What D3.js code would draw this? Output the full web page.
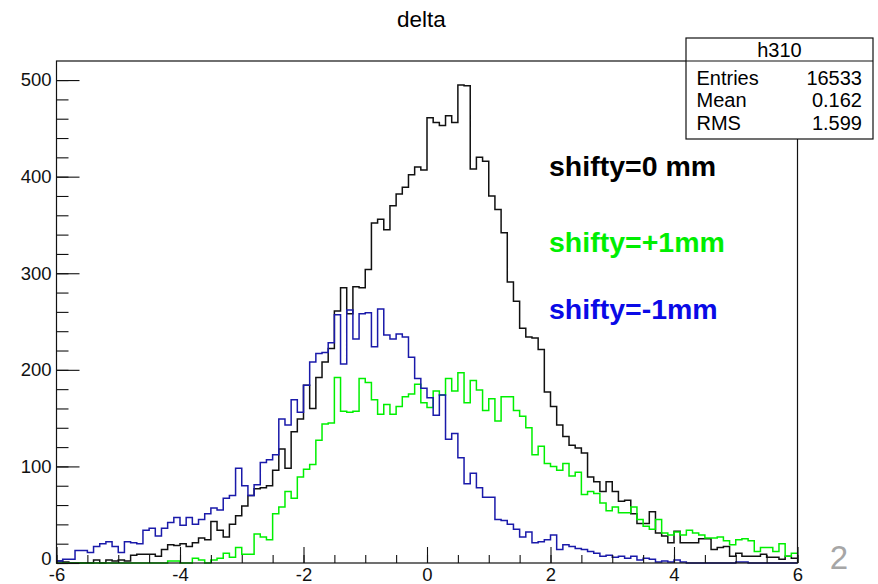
<!DOCTYPE html>
<html>
<head>
<meta charset="utf-8">
<script src="https://cdn.jsdelivr.net/npm/d3@7"></script>
<style>
  html, body { margin: 0; padding: 0; background: #fff; }
  svg { display: block; }
  text { font-family: "Liberation Sans", Arial, Helvetica, sans-serif; }
</style>
</head>
<body>
<div id="chart"></div>
<script>
// Histogram binning of "delta": 120 bins between -6 and 6
const xMin = -6, xMax = 6, nBins = 120;

// shifty = 0 mm (black)
const countsNominal = [
  2, 1, 0, 0, 0, 0, 3, 0, 3, 2, 3, 2,
  8, 9, 9, 9, 7, 14, 19, 18, 20, 17, 21, 26,
  24, 43, 34, 27, 40, 49, 59, 70, 77, 78, 80, 96,
  118, 98, 136, 149, 184, 160, 192, 208, 222, 261, 285, 258,
  286, 285, 304, 352, 356, 345, 370, 382, 389, 402, 410, 407,
  461, 456, 453, 463, 456, 495, 494, 408, 420, 416, 380, 366,
  342, 291, 271, 243, 234, 233, 221, 177, 162, 143, 131, 122,
  119, 114, 89, 84, 74, 84, 74, 64, 65, 51, 41, 41,
  53, 31, 28, 21, 33, 21, 21, 21, 25, 25, 14, 16,
  17, 7, 10, 7, 7, 7, 9, 6, 6, 4, 7, 5
];

// shifty = +1 mm (green)
const countsPlus = [
  0, 0, 0, 0, 0, 0, 0, 0, 0, 0, 0, 0,
  0, 0, 0, 0, 0, 0, 2, 2, 0, 0, 5, 3,
  0, 3, 5, 10, 6, 16, 9, 9, 30, 27, 24, 51,
  58, 74, 67, 89, 97, 102, 127, 144, 145, 192, 157, 156,
  157, 191, 187, 169, 154, 164, 154, 162, 172, 175, 185, 166,
  161, 178, 174, 191, 178, 197, 166, 189, 179, 158, 170, 147,
  172, 172, 158, 152, 140, 112, 121, 103, 100, 96, 103, 90,
  94, 71, 74, 72, 62, 54, 58, 52, 52, 58, 45, 38,
  35, 45, 31, 29, 32, 29, 34, 31, 29, 26, 26, 27,
  23, 19, 24, 25, 23, 12, 16, 16, 12, 20, 7, 10
];

// shifty = -1 mm (blue)
const countsMinus = [
  2, 4, 4, 13, 13, 11, 17, 20, 22, 17, 11, 22,
  21, 20, 34, 36, 28, 36, 42, 47, 39, 47, 40, 45,
  51, 57, 55, 67, 70, 98, 80, 70, 81, 104, 107, 112,
  149, 143, 169, 156, 184, 208, 217, 218, 228, 257, 206, 262,
  232, 258, 259, 224, 263, 236, 232, 237, 234, 213, 191, 181,
  171, 153, 174, 128, 134, 109, 82, 93, 78, 68, 68, 45,
  44, 40, 35, 27, 32, 21, 22, 24, 29, 14, 19, 17,
  15, 14, 12, 10, 7, 8, 6, 7, 5, 7, 3, 5,
  4, 1, 2, 1, 3, 1, 0, 0, 0, 0, 0, 0,
  0, 0, 1, 1, 0, 0, 0, 0, 0, 0, 0, 0
];

const xTickLabels = [-6, -4, -2, 0, 2, 4, 6];
const yTickLabels = [0, 100, 200, 300, 400, 500];
const legendLabels = ["shifty=0 mm", "shifty=+1mm", "shifty=-1mm"];
const statNames = ["Entries", "Mean", "RMS"];
const statValues = ["16533", "0.162", "1.599"];
const histName = "h310";
const title = "delta";
const pageNumber = "2";

// ---- drawing ----
const W = 878, H = 584;
const frame = { left: 56.5, right: 797.5, top: 61, bottom: 563 };
const yMax = d3.max(countsNominal) * 1.05;

const svg = d3.select("#chart").append("svg")
  .attr("width", W).attr("height", H);

const x = d3.scaleLinear().domain([xMin, xMax]).range([frame.left, frame.right]);
const y = d3.scaleLinear().domain([0, yMax]).range([frame.bottom, frame.top]);

const edges = d3.range(nBins + 1).map(i => xMin + i * (xMax - xMin) / nBins);

function stepPoints(counts) {
  const pts = counts.map((c, i) => [edges[i], c]);
  pts.push([edges[nBins], counts[nBins - 1]]);
  return pts;
}

const line = d3.line()
  .x(d => x(d[0]))
  .y(d => y(d[1]))
  .curve(d3.curveStepAfter);

// title
svg.append("text")
  .attr("x", 421.5).attr("y", 27)
  .attr("text-anchor", "middle")
  .attr("font-size", 22.5)
  .text(title);

// histograms
const series = [
  { counts: countsNominal, color: "#111111" },
  { counts: countsPlus, color: "#00f000" },
  { counts: countsMinus, color: "#1a1aaa" }
];
svg.append("g").selectAll("path")
  .data(series).join("path")
  .attr("d", d => line(stepPoints(d.counts)))
  .attr("fill", "none")
  .attr("stroke", d => d.color)
  .attr("stroke-width", 1.5);

// frame
svg.append("rect")
  .attr("x", frame.left).attr("y", frame.top)
  .attr("width", frame.right - frame.left)
  .attr("height", frame.bottom - frame.top)
  .attr("fill", "none").attr("stroke", "#111").attr("stroke-width", 1.2);

// x axis: minor ticks every 0.5, major ticks with labels
const xMinor = d3.axisBottom(x)
  .tickValues(d3.range(xMin, xMax + 0.001, 0.5))
  .tickSize(-8).tickFormat("");
const gxMinor = svg.append("g").attr("transform", `translate(0,${frame.bottom})`).call(xMinor);

const xMajor = d3.axisBottom(x)
  .tickValues(xTickLabels)
  .tickSize(-16).tickPadding(5)
  .tickFormat(d => d < 0 ? "-" + Math.abs(d) : String(d));
const gxMajor = svg.append("g").attr("transform", `translate(0,${frame.bottom})`).call(xMajor);

// y axis: minor ticks every 20, major with labels
const yMinor = d3.axisLeft(y)
  .tickValues(d3.range(0, yMax, 20))
  .tickSize(-12).tickFormat("");
const gyMinor = svg.append("g").attr("transform", `translate(${frame.left},0)`).call(yMinor);

const yMajor = d3.axisLeft(y)
  .tickValues(yTickLabels)
  .tickSize(-23).tickPadding(5)
  .tickFormat(d3.format("d"));
const gyMajor = svg.append("g").attr("transform", `translate(${frame.left},0)`).call(yMajor);

[gxMinor, gxMajor, gyMinor, gyMajor].forEach(g => {
  g.select(".domain").remove();
  g.selectAll(".tick line").attr("stroke", "#111").attr("stroke-width", 1.1);
  g.selectAll("text")
    .attr("font-size", 18.5)
    .attr("font-family", "'Liberation Sans', Arial, sans-serif")
    .attr("fill", "#111");
});
// the "0" label of the y axis sits a touch higher to clear the "-6" below it
gyMajor.selectAll(".tick").filter(d => d === 0).select("text").attr("dy", "0.1em");

// series labels
const legendColors = ["#000000", "#00ee00", "#0a0ae6"];
const legendY = [176, 252, 319];
svg.append("g").selectAll("text")
  .data(legendLabels).join("text")
  .attr("x", 549)
  .attr("y", (d, i) => legendY[i])
  .attr("font-size", 28.5)
  .attr("font-weight", "bold")
  .attr("fill", (d, i) => legendColors[i])
  .text(d => d);

// statistics box
const box = { x0: 686, x1: 873, y0: 38, y1: 139, sep: 61 };
const gs = svg.append("g");
gs.append("rect")
  .attr("x", box.x0).attr("y", box.y0)
  .attr("width", box.x1 - box.x0).attr("height", box.y1 - box.y0)
  .attr("fill", "#fff").attr("stroke", "#111").attr("stroke-width", 1.2);
gs.append("line")
  .attr("x1", box.x0).attr("x2", box.x1)
  .attr("y1", box.sep).attr("y2", box.sep)
  .attr("stroke", "#111").attr("stroke-width", 1.2);
gs.append("text")
  .attr("x", (box.x0 + box.x1) / 2).attr("y", 56.5)
  .attr("text-anchor", "middle").attr("font-size", 20)
  .text(histName);
const statY = [84.5, 107, 130];
gs.selectAll("text.name").data(statNames).join("text")
  .attr("class", "name")
  .attr("x", 696.5).attr("y", (d, i) => statY[i])
  .attr("font-size", 20).text(d => d);
gs.selectAll("text.val").data(statValues).join("text")
  .attr("class", "val")
  .attr("x", 862).attr("y", (d, i) => statY[i])
  .attr("text-anchor", "end")
  .attr("font-size", 20).text(d => d);

// page number
svg.append("text")
  .attr("x", 839).attr("y", 569)
  .attr("text-anchor", "middle")
  .attr("font-family", "'Open Sans', Lato, sans-serif")
  .attr("font-size", 33)
  .attr("fill", "#a6a6a6")
  .text(pageNumber);
</script>
</body>
</html>
